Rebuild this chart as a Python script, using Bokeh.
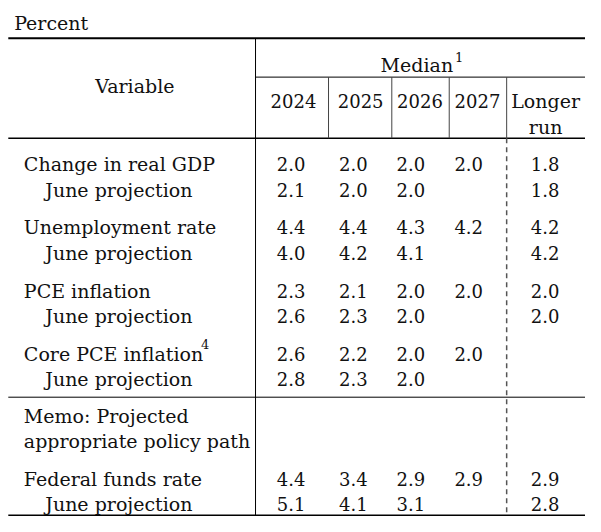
from bokeh.plotting import figure
from bokeh.models import Range1d, ColumnDataSource
from bokeh.core.properties import value
from bokeh.embed import file_html
from bokeh.resources import INLINE

# ---- data ----
unit_label = "Percent"
header_variable = "Variable"
header_median = "Median"
median_note = "1"
columns = ["2024", "2025", "2026", "2027"]
longer_run = ["Longer", "run"]
variables = ["Change in real GDP", "Unemployment rate", "PCE inflation",
             "Core PCE inflation", "Federal funds rate"]
variable_notes = ["", "", "", "4", ""]
sub_label = "June projection"
memo_lines = ["Memo: Projected", "appropriate policy path"]

# values: median, then June projection, for each variable
v2024 = [2.0, 2.1, 4.4, 4.0, 2.3, 2.6, 2.6, 2.8, 4.4, 5.1]
v2025 = [2.0, 2.0, 4.4, 4.2, 2.1, 2.3, 2.2, 2.3, 3.4, 4.1]
v2026 = [2.0, 2.0, 4.3, 4.1, 2.0, 2.0, 2.0, 2.0, 2.9, 3.1]
v2027 = [2.0, None, 4.2, None, 2.0, None, 2.0, None, 2.9, None]
vlong = [1.8, 1.8, 4.2, 4.2, 2.0, 2.0, None, None, 2.9, 2.8]

# ---- layout ----
FONT = "DejaVu Serif"
p = figure(width=585, height=516, x_range=Range1d(0, 601), y_range=Range1d(532, 0),
           output_backend="svg", toolbar_location=None, min_border=0)
p.axis.visible = False
p.grid.visible = False
p.outline_line_color = None
p.background_fill_color = "white"
p.border_fill_color = "white"

def txt(xs, ys, texts, size="19px", align="left"):
    src = ColumnDataSource(dict(x=xs, y=ys, t=texts))
    p.text(x="x", y="y", text="t", source=src, text_font=value(FONT), text_font_size=size,
           text_align=align, text_baseline="alphabetic", text_color="#111111")

# rules
L, R = 8, 601
p.segment(x0=[L, L], y0=[39, 531], x1=[R, R], y1=[39, 531], line_color="black", line_width=2)
p.segment(x0=[L], y0=[142], x1=[R], y1=[142], line_color="black", line_width=1.5)
p.segment(x0=[L, 262], y0=[409, 79], x1=[R, R], y1=[409, 79], line_color="black", line_width=1)
p.segment(x0=[262], y0=[39], x1=[262], y1=[531], line_color="black", line_width=1)
p.segment(x0=[337, 402, 461, 520], y0=[79] * 4, x1=[337, 402, 461, 520], y1=[142] * 4,
          line_color="#444444", line_width=1)
p.segment(x0=[520], y0=[142], x1=[520], y1=[531], line_color="#555555", line_width=1.5,
          line_dash="5 4")

# header texts
txt([14], [23], [unit_label])
txt([138], [88], [header_variable], align="center")
txt([465], [66], [header_median], align="right")
txt([467], [58], [median_note], size="13px")
head_x = [301, 370, 431, 490]
txt(head_x, [104] * 4, columns, size="18px", align="center")
txt([560, 560], [104, 130], longer_run, align="center")

# row labels
main_y = [169, 234, 299, 364, 493]
lab_x, lab_y, lab_t = [], [], []
for name, y in zip(variables, main_y):
    lab_x += [24, 46]
    lab_y += [y, y + 26]
    lab_t += [name, sub_label]
lab_x += [24, 24]
lab_y += [428, 454]
lab_t += memo_lines
txt(lab_x, lab_y, lab_t)
note_x, note_y, note_t = [], [], []
for note, y in zip(variable_notes, main_y):
    if note:
        note_x.append(206)
        note_y.append(y - 10)
        note_t.append(note)
txt(note_x, note_y, note_t, size="13px")

# values
row_y = []
for y in main_y:
    row_y += [y, y + 26]
col_x = [298.5, 362.5, 421.5, 481, 559.5]
vx, vy, vt = [], [], []
for cx, col in zip(col_x, [v2024, v2025, v2026, v2027, vlong]):
    for y, v in zip(row_y, col):
        if v is not None:
            vx.append(cx)
            vy.append(y)
            vt.append(f"{v:.1f}")
txt(vx, vy, vt, size="18px", align="center")

open("out.html", "w").write(file_html(p, INLINE))
